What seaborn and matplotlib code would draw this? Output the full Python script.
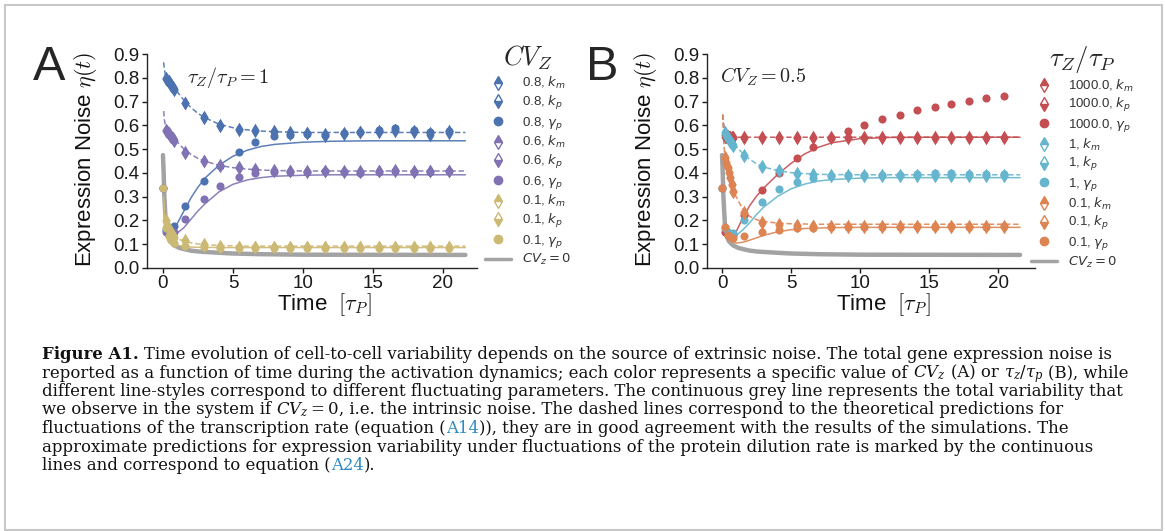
import numpy as np
import pandas as pd
import matplotlib
matplotlib.use("Agg")
import matplotlib.pyplot as plt
import seaborn as sns
from matplotlib.lines import Line2D
from matplotlib.patches import Rectangle
from matplotlib.transforms import IdentityTransform

nan = np.nan

# ---------------- data ----------------
# simulation sampling times
T_K = [0.2, 0.3, 0.4, 0.5, 0.6, 0.7, 0.8, 1.6, 2.9, 4.1, 5.4, 6.6, 7.9, 9.1,
       10.3, 11.6, 12.9, 14.1, 15.4, 16.6, 17.9, 19.1, 20.4]
T_G = [0.0, 0.2, 0.4, 0.6, 0.8, 1.6, 2.9, 4.1, 5.4, 6.6, 7.9, 9.1, 10.3, 11.6,
       12.9, 14.1, 15.4, 16.6, 17.9, 19.1, 20.4]
# theory time grid
TT = [0.05, 0.1, 0.2, 0.4, 0.6, 0.8, 1.0, 1.5, 2.0, 2.5, 3.0, 4.0, 5.0, 6.0,
      7.0, 8.0, 10.0, 12.0, 15.0, 18.0, 21.6]
# intrinsic (CV_z = 0) curve
T_GREY = [0.0, 0.05, 0.1, 0.2, 0.3, 0.5, 0.8, 1.2, 2.0, 2.6, 4.0, 5.0, 7.0, 10.0, 21.6]
GREY = [0.475, 0.40, 0.30, 0.19, 0.14, 0.112, 0.095, 0.084, 0.073, 0.069, 0.064,
        0.061, 0.058, 0.056, 0.055]

# Panel A: CV_Z = 0.8, 0.6, 0.1
A_LABELS = ["0.8", "0.6", "0.1"]
A_KM = [
    [0.800, 0.792, 0.785, 0.778, 0.770, 0.762, 0.752, 0.696, 0.634, 0.600, 0.584, 0.580,
     0.577, 0.572, 0.568, 0.562, 0.567, 0.572, 0.575, 0.580, 0.576, 0.560, 0.568],
    [0.582, 0.575, 0.567, 0.560, 0.552, 0.545, 0.539, 0.487, 0.452, 0.434, 0.424, 0.416,
     0.413, 0.410, 0.408, 0.410, 0.408, 0.407, 0.410, 0.411, 0.408, 0.410, 0.410],
    [0.200, 0.182, 0.168, 0.156, 0.146, 0.138, 0.131, 0.116, 0.100, 0.092, 0.089, 0.088,
     0.088, 0.088, 0.088, 0.088, 0.088, 0.088, 0.088, 0.088, 0.088, 0.088, 0.088],
]
A_KP = [
    [0.796, 0.789, 0.781, 0.774, 0.767, 0.758, 0.748, 0.692, 0.632, 0.598, 0.580, 0.576,
     0.572, 0.563, 0.567, 0.557, 0.565, 0.570, 0.572, 0.578, 0.572, 0.568, 0.575],
    [0.578, 0.571, 0.563, 0.556, 0.549, 0.541, 0.535, 0.482, 0.448, 0.430, 0.420, 0.413,
     0.410, 0.406, 0.405, 0.406, 0.405, 0.404, 0.407, 0.408, 0.405, 0.407, 0.406],
    [0.196, 0.178, 0.164, 0.152, 0.143, 0.135, 0.128, 0.112, 0.097, 0.090, 0.087, 0.087,
     0.087, 0.087, 0.087, 0.087, 0.087, 0.087, 0.087, 0.087, 0.087, 0.087, 0.087],
]
A_GP = [
    [0.335, 0.160, 0.150, 0.158, 0.178, 0.262, 0.364, 0.428, 0.489, 0.528, 0.556, 0.560,
     0.562, 0.558, 0.566, 0.572, 0.580, 0.589, 0.580, 0.572, 0.578],
    [0.335, 0.150, 0.140, 0.142, 0.150, 0.207, 0.290, 0.346, 0.384, 0.400, 0.403, 0.405,
     0.404, 0.408, 0.405, 0.400, 0.404, 0.410, 0.404, 0.405, 0.410],
    [0.335, 0.170, 0.135, 0.118, 0.105, 0.093, 0.088, 0.086, 0.085, 0.085, 0.085, 0.085,
     0.085, 0.085, 0.085, 0.085, 0.085, 0.085, 0.085, 0.085, 0.085],
]
A_DASH = [
    [0.865, 0.835, 0.805, 0.787, 0.772, 0.757, 0.743, 0.705, 0.675, 0.650, 0.632, 0.605,
     0.590, 0.581, 0.576, 0.573, 0.570, 0.570, 0.570, 0.570, 0.570],
    [0.660, 0.625, 0.590, 0.570, 0.556, 0.543, 0.531, 0.500, 0.478, 0.461, 0.449, 0.432,
     0.422, 0.416, 0.412, 0.410, 0.408, 0.408, 0.408, 0.408, 0.408],
    [0.230, 0.215, 0.185, 0.158, 0.142, 0.132, 0.124, 0.113, 0.106, 0.101, 0.098, 0.095,
     0.093, 0.092, 0.092, 0.092, 0.092, 0.092, 0.092, 0.092, 0.092],
]
A_SOLID = [
    [nan, nan, nan, 0.150, 0.158, 0.170, 0.185, 0.240, 0.295, 0.340, 0.378, 0.432,
     0.470, 0.495, 0.511, 0.520, 0.529, 0.533, 0.535, 0.535, 0.535],
    [nan, nan, nan, nan, 0.140, 0.140, 0.146, 0.170, 0.205, 0.240, 0.270, 0.320,
     0.352, 0.370, 0.380, 0.386, 0.390, 0.392, 0.392, 0.392, 0.392],
    [0.300, 0.230, 0.170, 0.130, 0.112, 0.102, 0.096, 0.091, 0.088, 0.087, 0.087, 0.086,
     0.086, 0.086, 0.086, 0.086, 0.086, 0.086, 0.086, 0.086, 0.086],
]

# Panel B: tau_Z/tau_P = 1000, 1, 0.1
B_LABELS = ["1000.0", "1", "0.1"]
B_KM = [
    [0.558, 0.556, 0.554, 0.553, 0.552, 0.551, 0.551, 0.550, 0.550, 0.550, 0.550, 0.550,
     0.550, 0.550, 0.550, 0.550, 0.550, 0.550, 0.550, 0.550, 0.550, 0.550, 0.550],
    [0.573, 0.560, 0.550, 0.541, 0.533, 0.525, 0.517, 0.475, 0.429, 0.412, 0.400, 0.395,
     0.390, 0.390, 0.390, 0.390, 0.390, 0.392, 0.392, 0.393, 0.392, 0.390, 0.392],
    [0.468, 0.445, 0.426, 0.405, 0.384, 0.352, 0.324, 0.237, 0.192, 0.185, 0.180, 0.178,
     0.177, 0.177, 0.177, 0.177, 0.177, 0.177, 0.177, 0.177, 0.177, 0.177, 0.177],
]
B_KP = [
    [0.553, 0.551, 0.550, 0.549, 0.548, 0.548, 0.548, 0.547, 0.547, 0.547, 0.547, 0.547,
     0.547, 0.547, 0.547, 0.547, 0.547, 0.547, 0.547, 0.547, 0.547, 0.547, 0.547],
    [0.569, 0.556, 0.546, 0.537, 0.529, 0.521, 0.513, 0.470, 0.425, 0.408, 0.396, 0.391,
     0.386, 0.386, 0.386, 0.386, 0.387, 0.388, 0.388, 0.389, 0.388, 0.386, 0.387],
    [0.462, 0.439, 0.420, 0.399, 0.378, 0.347, 0.319, 0.233, 0.189, 0.182, 0.177, 0.175,
     0.174, 0.174, 0.174, 0.174, 0.174, 0.174, 0.174, 0.174, 0.174, 0.174, 0.174],
]
B_GP = [
    [0.335, 0.150, 0.140, 0.135, 0.140, 0.223, 0.328, 0.400, 0.462, 0.507, 0.545, 0.577,
     0.601, 0.626, 0.643, 0.664, 0.678, 0.690, 0.704, 0.714, 0.723],
    [0.335, 0.170, 0.150, 0.145, 0.148, 0.200, 0.279, 0.332, 0.363, 0.380, 0.385, 0.390,
     0.392, 0.390, 0.392, 0.396, 0.398, 0.398, 0.396, 0.394, 0.396],
    [0.335, 0.174, 0.140, 0.130, 0.125, 0.135, 0.153, 0.160, 0.168, 0.170, 0.172, 0.172,
     0.173, 0.174, 0.174, 0.175, 0.174, 0.175, 0.174, 0.174, 0.175],
]
B_DASH = [
    [0.645, 0.610, 0.575, 0.556, 0.552, 0.550, 0.550, 0.550, 0.550, 0.550, 0.550, 0.550,
     0.550, 0.550, 0.550, 0.550, 0.550, 0.550, 0.550, 0.550, 0.550],
    [0.645, 0.600, 0.575, 0.556, 0.541, 0.526, 0.512, 0.482, 0.457, 0.438, 0.425, 0.410,
     0.401, 0.397, 0.394, 0.393, 0.392, 0.392, 0.392, 0.392, 0.392],
    [0.645, 0.550, 0.470, 0.415, 0.372, 0.333, 0.302, 0.247, 0.217, 0.203, 0.196, 0.189,
     0.186, 0.185, 0.184, 0.184, 0.184, 0.184, 0.184, 0.184, 0.184],
]
B_SOLID = [
    [nan, nan, nan, nan, 0.130, 0.135, 0.150, 0.210, 0.262, 0.302, 0.335, 0.392,
     0.440, 0.480, 0.508, 0.527, 0.544, 0.549, 0.550, 0.550, 0.550],
    [nan, nan, nan, nan, 0.130, 0.130, 0.135, 0.160, 0.190, 0.225, 0.255, 0.300,
     0.333, 0.353, 0.366, 0.372, 0.378, 0.380, 0.380, 0.380, 0.380],
    [nan, nan, nan, nan, 0.120, 0.110, 0.105, 0.108, 0.117, 0.127, 0.137, 0.152,
     0.161, 0.166, 0.168, 0.170, 0.171, 0.171, 0.171, 0.171, 0.171],
]

A_COLORS = ["#4C72B0", "#8172B3", "#CCB974"]
B_COLORS = ["#C44E52", "#64B5CD", "#DD8452"]
GREY_C = "#A3A3A3"
YTICKS = [0.0, 0.1, 0.2, 0.3, 0.4, 0.5, 0.6, 0.7, 0.8, 0.9]
XTICKS = [0, 5, 10, 15, 20]

# ---------------- style ----------------
sns.set_theme(style="ticks")
plt.rcParams["font.family"] = ["Liberation Sans", "DejaVu Sans"]
plt.rcParams["axes.linewidth"] = 1.0
plt.rcParams["axes.edgecolor"] = "#262626"
plt.rcParams["xtick.major.size"] = 3.5
plt.rcParams["ytick.major.size"] = 3.5
plt.rcParams["xtick.major.width"] = 1.0
plt.rcParams["ytick.major.width"] = 1.0

W, H = 1165, 531
fig = plt.figure(figsize=(W / 100, H / 100), dpi=100)

def px_axes(l, r, t, b):
    return fig.add_axes([l / W, 1 - b / H, (r - l) / W, (b - t) / H])

axA = px_axes(147, 477, 54, 268)
axB = px_axes(707, 1035, 54, 268)

DASH = (0, (3.5, 1.8))

def theory(ax, t, v, color, ls, lw=1.1):
    d = pd.DataFrame({"t": t, "v": v}).dropna()
    sns.lineplot(data=d, x="t", y="v", ax=ax, color=color, linestyle=ls,
                 linewidth=lw, estimator=None, sort=False, legend=False,
                 alpha=0.9, zorder=2)

def points(ax, t, v, color, marker, s):
    sns.scatterplot(x=t, y=v, ax=ax, color=color, marker=marker, s=s,
                    linewidth=0, legend=False, zorder=3)

def panel(ax, colors, km, kp, gp, dash, solid, xlim):
    sns.lineplot(x=T_GREY, y=GREY, ax=ax, color=GREY_C, linewidth=3.2,
                 estimator=None, sort=False, legend=False, zorder=1.5)
    for i, c in enumerate(colors):
        theory(ax, TT, dash[i], c, DASH)
        theory(ax, TT, solid[i], c, "-")
    for i, c in enumerate(colors):
        points(ax, T_K, km[i], c, "d", 48)
        points(ax, T_K, kp[i], c, "d", 48)
        points(ax, T_G, gp[i], c, "o", 34)
    ax.set_xlim(*xlim)
    ax.set_ylim(0, 0.9)
    ax.set_yticks(YTICKS)
    ax.set_yticklabels([f"{v:.1f}" for v in YTICKS])
    ax.set_xticks(XTICKS)
    ax.tick_params(labelsize=13.5, pad=2, colors="#1a1a1a")
    ax.tick_params(axis="x", pad=1.5)
    ax.set_ylabel("Expression Noise $\\eta(t)$", fontsize=16, color="#111111")
    ax.yaxis.label.set_math_fontfamily("cm")
    ax.yaxis.set_label_coords(-0.145, 0.51)
    ax.set_xlabel("Time  $[\\tau_P]$", fontsize=16, color="#111111")
    ax.xaxis.label.set_math_fontfamily("cm")
    ax.xaxis.set_label_coords(0.536, -0.108)
    sns.despine(ax=ax)

panel(axA, A_COLORS, A_KM, A_KP, A_GP, A_DASH, A_SOLID, (-1.14, 22.43))
panel(axB, B_COLORS, B_KM, B_KP, B_GP, B_DASH, B_SOLID, (-1.09, 22.68))

# annotations
t = fig.text(187 / W, 1 - 77 / H, r"$\tau_Z/\tau_P = 1$", fontsize=14.5, va="center", ha="left")
t.set_math_fontfamily("cm")
t = fig.text(720 / W, 1 - 77 / H, r"$CV_Z = 0.5$", fontsize=14.5, va="center", ha="left")
t.set_math_fontfamily("cm")
fig.text(33 / W, 1 - 80 / H, "A", fontsize=35, va="baseline", ha="left")
fig.text(586 / W, 1 - 80 / H, "B", fontsize=35, va="baseline", ha="left")

# legends
def make_legend(ax, labels, colors, title, x_px, y_px):
    handles, texts = [], []
    for lab, c in zip(labels, colors):
        handles.append(Line2D([], [], ls="none", marker="d", ms=7.5, color=c, mec=c,
                              fillstyle="top", markerfacecoloralt="white", mew=1.0))
        texts.append(f"{lab}, $k_m$")
        handles.append(Line2D([], [], ls="none", marker="d", ms=7.5, color=c, mec=c,
                              fillstyle="bottom", markerfacecoloralt="white", mew=1.0))
        texts.append(f"{lab}, $k_p$")
        handles.append(Line2D([], [], ls="none", marker="o", ms=6, color=c, mec=c))
        texts.append(f"{lab}, $\\gamma_p$")
    handles.append(Line2D([], [], color=GREY_C, lw=2.5))
    texts.append("$CV_z=0$")
    leg = ax.legend(handles, texts, loc="upper left", bbox_to_anchor=(x_px / W, 1 - y_px / H),
                    bbox_transform=fig.transFigure, frameon=False, fontsize=9.5,
                    title=title, title_fontsize=19, handlelength=2.0, handletextpad=0.8,
                    labelspacing=0.2, borderpad=0, borderaxespad=0)
    leg.get_title().set_math_fontfamily("cm")
    for tx in leg.get_texts():
        tx.set_color("#333333")
    return leg

make_legend(axA, A_LABELS, A_COLORS, r"$CV_Z$", 485, 44)
make_legend(axB, B_LABELS, B_COLORS, r"$\tau_Z/\tau_P$", 1031, 44)

# frame
fig.add_artist(Rectangle((5, 1), 1157, 525, fill=False, ec="#c8c8c8", lw=1.5,
                         transform=IdentityTransform()))

# caption
LINK = "#2f8ac4"
CAPTION = [
    [("Figure A1.", "b"), (" Time evolution of cell-to-cell variability depends on the source of extrinsic noise. The total gene expression noise is", "n")],
    [("reported as a function of time during the activation dynamics; each color represents a specific value of ", "n"),
     (r"$CV_z$", "m"), (" (A) or ", "n"), (r"$\tau_z/\tau_p$", "m"), (" (B), while", "n")],
    [("different line-styles correspond to different fluctuating parameters. The continuous grey line represents the total variability that", "n")],
    [("we observe in the system if ", "n"), (r"$CV_z = 0$", "m"), (", i.e. the intrinsic noise. The dashed lines correspond to the theoretical predictions for", "n")],
    [("fluctuations of the transcription rate (equation (", "n"), ("A14", "link"), (")), they are in good agreement with the results of the simulations. The", "n")],
    [("approximate predictions for expression variability under fluctuations of the protein dilution rate is marked by the continuous", "n")],
    [("lines and correspond to equation (", "n"), ("A24", "link"), (").", "n")],
]

renderer = fig.canvas.get_renderer()
SERIF = "DejaVu Serif"

def space_width(size):
    a = fig.text(0, 0, "n n", fontsize=size, family=SERIF, transform=IdentityTransform())
    b = fig.text(0, 0, "nn", fontsize=size, family=SERIF, transform=IdentityTransform())
    w = a.get_window_extent(renderer).width - b.get_window_extent(renderer).width
    a.remove(); b.remove()
    return w

def draw_line(x0, y, runs, size, keep=True):
    sp = space_width(size)
    x = x0
    objs = []
    for s, style in runs:
        lead = len(s) - len(s.lstrip(" "))
        trail = len(s) - len(s.rstrip(" "))
        core = s.strip(" ")
        x += lead * sp
        if core:
            kw = dict(fontsize=size, family=SERIF, va="baseline", ha="left",
                      transform=IdentityTransform(), color="#111111")
            if style == "b":
                kw["fontweight"] = "bold"
            if style == "link":
                kw["color"] = LINK
            t = fig.text(x, y, core, **kw)
            if style == "m":
                t.set_math_fontfamily("dejavuserif")
            x += t.get_window_extent(renderer).width
            objs.append(t)
        x += trail * sp
    if not keep:
        for o in objs:
            o.remove()
    return x - x0

CAP_X = 42
base = 11.0
w = draw_line(CAP_X, 0, CAPTION[1], base, keep=False)
size = base * (1122 - CAP_X) / w
for i, runs in enumerate(CAPTION):
    ytop = 359 + 18.5 * i
    draw_line(CAP_X, H - ytop, runs, size)

fig.savefig("out.png", dpi=100)
